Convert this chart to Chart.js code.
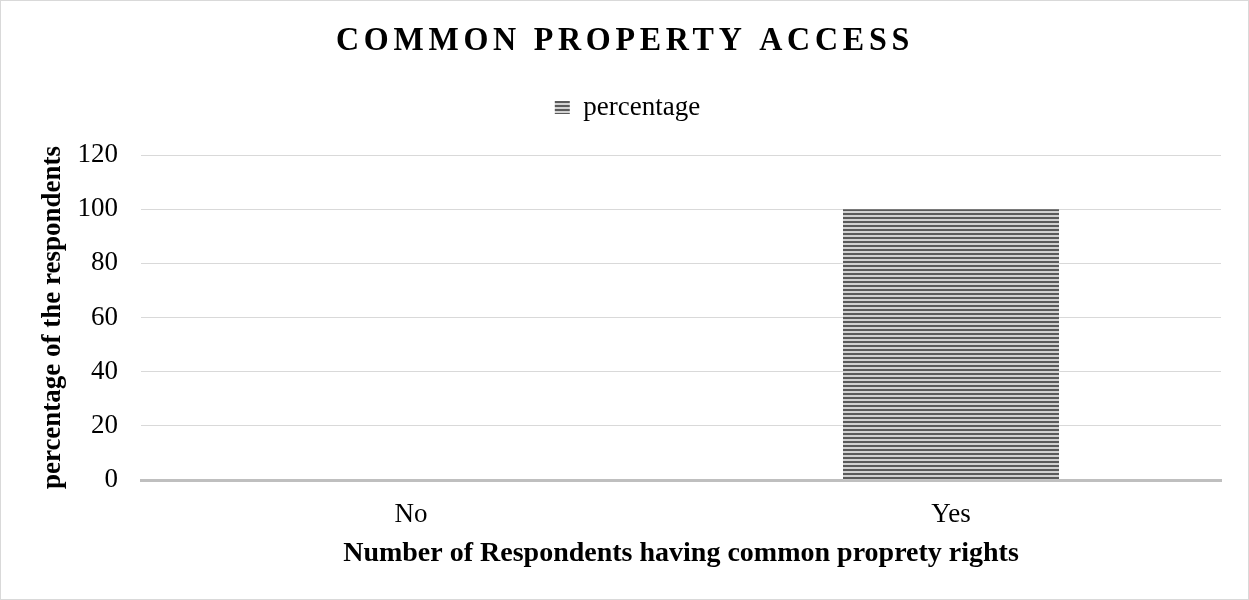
<!DOCTYPE html>
<html>
<head>
<meta charset="utf-8">
<script src="https://cdn.jsdelivr.net/npm/chart.js@4/dist/chart.umd.min.js"></script>
<style>
  html, body { margin: 0; padding: 0; background: #fff; }
  #wrap { width: 1249px; height: 600px; box-sizing: border-box; border: 1px solid #d9d9d9; }
</style>
</head>
<body>
<div id="wrap"><canvas id="bar-chart"></canvas></div>
<script>
// data
const categories = ['No', 'Yes'];
const percentage = [0, 100];
const chartTitle = 'COMMON PROPERTY ACCESS';
const xTitle = 'Number of Respondents having common proprety rights';
const yTitle = 'percentage of the respondents';

const serif = '"Liberation Serif", "Times New Roman", serif';

// horizontal stripe fill like the original
function stripes() {
    const c = document.createElement('canvas');
    c.width = 4; c.height = 4;
    const g = c.getContext('2d');
    g.fillStyle = '#d2d2d2';
    g.fillRect(0, 0, 4, 4);
    g.fillStyle = '#5a5a5a';
    g.fillRect(0, 0, 4, 2);
    return g.createPattern(c, 'repeat');
}
const fill = stripes();

// title drawn by hand: spaced out and a bit condensed, like the original
const spacedTitle = {
    id: 'spacedTitle',
    afterDraw(chart) {
        const ctx = chart.ctx;
        ctx.save();
        ctx.font = 'bold 34px ' + serif;
        ctx.letterSpacing = '5px';
        ctx.fillStyle = '#000';
        ctx.textAlign = 'center';
        ctx.textBaseline = 'middle';
        const w = ctx.measureText(chartTitle).width;
        const sx = 578 / w;
        ctx.translate(624, 40);
        ctx.scale(sx, 1);
        ctx.fillText(chartTitle, 0, 0);
        ctx.restore();
    }
};

// extra room under the legend before the plot starts
const legendGap = {
    id: 'legendGap',
    afterInit(chart) {
        const legend = chart.legend;
        const fit = legend.fit;
        legend.fit = function () {
            fit.call(this);
            this.height += 24;
        };
    }
};

const ctx = document.getElementById('bar-chart').getContext('2d');
new Chart(ctx, {
    type: 'bar',
    data: {
        labels: categories,
        datasets: [{
            label: 'percentage',
            data: percentage,
            backgroundColor: fill,
            borderWidth: 0,
            categoryPercentage: 1,
            barPercentage: 0.4
        }]
    },
    options: {
        responsive: true,
        maintainAspectRatio: false,
        animation: false,
        layout: { padding: { top: 59, right: 27, left: 33, bottom: 28 } },
        plugins: {
            legend: {
                display: true,
                labels: {
                    font: { family: serif, size: 27 },
                    color: '#000',
                    boxWidth: 15,
                    boxHeight: 13,
                    padding: 34
                }
            },
            tooltip: { enabled: false }
        },
        scales: {
            x: {
                grid: { display: false, drawTicks: false },
                border: { color: '#bfbfbf', width: 3 },
                ticks: { font: { family: serif, size: 27 }, color: '#000', padding: 19 },
                title: {
                    display: true,
                    text: xTitle,
                    font: { family: serif, size: 28, weight: 'bold' },
                    color: '#000',
                    padding: 0
                },
                afterFit(scale) { scale.height = 91; }
            },
            y: {
                min: 0,
                max: 120,
                ticks: { stepSize: 20, font: { family: serif, size: 27 }, color: '#000', padding: 23 },
                grid: { color: '#d9d9d9', drawTicks: false },
                border: { display: false },
                title: {
                    display: true,
                    text: yTitle,
                    font: { family: serif, size: 27, weight: 'bold' },
                    color: '#000',
                    padding: 3
                },
                afterFit(scale) { scale.width = 107; }
            }
        }
    },
    plugins: [spacedTitle, legendGap]
});
</script>
</body>
</html>
